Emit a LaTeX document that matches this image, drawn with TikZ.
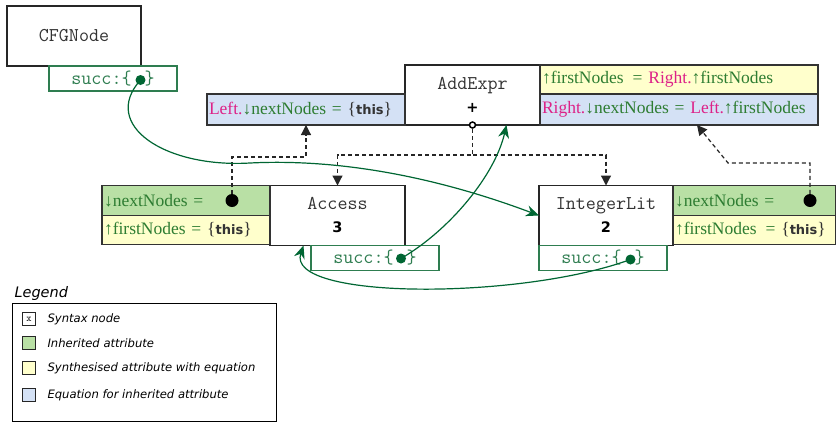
\documentclass[tikz,border=0pt]{standalone}
\usepackage{fontspec}
\setmainfont{Liberation Serif}
\setsansfont{DejaVu Sans}
\usetikzlibrary{positioning,arrows.meta}
\definecolor{attrinh}{HTML}{B9E0A5}
\definecolor{attrsyn}{HTML}{FFFFCC}
\definecolor{attreq}{HTML}{D4E1F5}
\definecolor{attrname}{HTML}{2E7D32}
\definecolor{childref}{HTML}{DD2288}
\definecolor{succline}{HTML}{006633}
\definecolor{succbox}{HTML}{2E7D50}

\newcommand{\nxt}{\textcolor{attrname}{↓nextNodes}}
\newcommand{\fst}{\textcolor{attrname}{↑firstNodes}}
\newcommand{\kid}[1]{\textcolor{childref}{#1.}}
\newcommand{\thisset}{\textcolor{black!80}{\{{\sffamily\bfseries\fontsize{13}{13}\selectfont this}\}}}
\newcommand{\symb}[1]{{\sffamily\bfseries\fontsize{14.5}{14.5}\selectfont #1}}

\tikzset{
  syntaxnode/.style={draw=black!85, line width=1.2pt, fill=white, outer sep=0pt,
    minimum width=135pt, minimum height=60pt, inner sep=0pt, align=center,
    font=\fontsize{19.5}{23}\selectfont},
  attrbox/.style={draw=black!80, line width=1.2pt, outer sep=0pt, inner xsep=2pt,
    minimum height=30pt, align=left, text=attrname,
    font=\fontsize{17.5}{20}\selectfont},
  succnode/.style={draw=succbox, line width=1.2pt, fill=white, outer sep=0pt,
    minimum width=128pt, minimum height=25pt, inner sep=0pt, text=succbox,
    font=\ttfamily\fontsize{19.5}{20}\selectfont},
  succdot/.style={circle, fill=succline, inner sep=0pt, minimum size=10pt},
  srcdot/.style={circle, fill=black, inner sep=0pt, minimum size=13pt},
  depline/.style={draw=black!85, line width=1.2pt, dash pattern=on 4pt off 3pt,
    -{Triangle[width=10pt,length=10pt]}},
  succline/.style={draw=succline, line width=1.2pt, -{Stealth[width=11pt,length=13pt]}},
  keybox/.style={draw=black!85, line width=1pt, minimum size=13pt, inner sep=0pt},
  keytext/.style={font=\sffamily\itshape\fontsize{11.6}{13}\selectfont, anchor=west}
}

\begin{document}
\begin{tikzpicture}[x=1pt, y=-1pt]
  \useasboundingbox (0,0) rectangle (836,421);

  % syntax nodes
  \node[syntaxnode, minimum width=134pt] (cfgnode) at (74,36)
    {\texttt{\textcolor{black!80}{CFGNode}}};
  \node[syntaxnode] (addexpr) at (472.5,95)
    {\texttt{\textcolor{black!80}{AddExpr}}\\\symb{+}};
  \node[syntaxnode] (access) at (337.5,215.5)
    {\texttt{\textcolor{black!80}{Access}}\\\symb{3}};
  \node[syntaxnode, minimum width=134pt] (intlit) at (606,215.5)
    {\texttt{\textcolor{black!80}{IntegerLit}}\\\symb{2}};

  % attribute boxes of AddExpr
  \node[attrbox, fill=attrsyn, anchor=north west, text width=274pt, minimum height=29pt]
    (addfirst) at (addexpr.north east) {\fst\hspace{9pt}= \kid{Right}\fst};
  \node[attrbox, fill=attreq, below=0pt of addfirst, text width=274pt, minimum height=31pt]
    (addnext) {\kid{Right}\nxt{} = \kid{Left}\fst};
  \node[attrbox, fill=attreq, anchor=south east, text width=194pt, minimum height=31pt]
    (leftnext) at (addexpr.south west) {\kid{Left}\nxt{} = \thisset};

  % attribute boxes of Access
  \node[attrbox, fill=attrinh, anchor=north east, text width=164pt, minimum height=30pt]
    (accnext) at (access.north west) {\nxt{} =};
  \node[attrbox, fill=attrsyn, below=0pt of accnext, text width=164pt, minimum height=29pt]
    (accfirst) {\fst{} = \thisset};

  % attribute boxes of IntegerLit
  \node[attrbox, fill=attrinh, anchor=north west, text width=159pt, minimum height=30pt]
    (intnext) at (intlit.north east) {\nxt{} =};
  \node[attrbox, fill=attrsyn, below=0pt of intnext, text width=159pt, minimum height=29pt]
    (intfirst) {\fst\hspace{9pt}= \thisset};

  % succ sets
  \node[succnode, anchor=north west] (cfgsucc) at (49,66) {succ:\{\hspace{13pt}\}};
  \node[succnode, below right=0pt and 41pt of access.south west] (accsucc) {succ:\{\hspace{13pt}\}};
  \node[succnode, anchor=north west] (intsucc) at (intlit.south west) {succ:\{\hspace{13pt}\}};

  \node[succdot] (cfgdot) at ([xshift=27.5pt, yshift=-1.5pt]cfgsucc.center) {};
  \node[succdot] (accdot) at ([xshift=26pt, yshift=-0.5pt]accsucc.center) {};
  \node[succdot] (intdot) at ([xshift=27.5pt, yshift=-1.5pt]intsucc.center) {};

  \node[srcdot] (accsrc) at ([xshift=-38pt]accnext.east) {};
  \node[srcdot] (intsrc) at ([xshift=-26pt]intnext.east) {};
  \node[circle, draw=black, fill=white, line width=1.5pt, inner sep=0pt, minimum size=6pt]
    (addsrc) at (addexpr.south) {};

  % dependencies
  \coordinate (busleft) at (0,157);
  \coordinate (busmid) at (0,155);
  \coordinate (busright) at (0,163);
  \draw[depline] (accsrc) -- (accsrc |- busleft) -| (leftnext.south);
  \draw[depline] (addsrc) -- (addsrc |- busmid) -| (access.north);
  \draw[depline] (addsrc |- busmid) -| (intlit.north);
  \draw[depline] (intsrc) -- (intsrc |- busright) -- (728,163) -- ([xshift=18pt]addnext.south);

  % successor edges
  \draw[succline] (cfgdot.center) .. controls (100,125) and (165,168) .. (250,163)
    .. controls (350,158) and (450,182) .. (intlit.west);
  \draw[succline] (accdot.center) .. controls (450,230) and (495,175) .. ([xshift=34pt]addexpr.south);
  \draw[succline] (intdot.center) .. controls (520,300) and (285,300) .. ([xshift=-34pt]access.south);

  % legend
  \node[font=\sffamily\itshape\fontsize{14.5}{16}\selectfont, anchor=south west] (legendtitle) at (11,304) {Legend};
  \node[draw=black, line width=1pt, anchor=north west, minimum width=264pt, minimum height=118pt,
    inner sep=0pt] (legend) at (12,303) {};
  \node[keybox] (keysyn) at (29,319) {\ttfamily\fontsize{10}{10}\selectfont x};
  \node[keybox, fill=attrinh] (keyinh) at (29,343) {};
  \node[keybox, fill=attrsyn] (keysynth) at (29,368) {};
  \node[keybox, fill=attreq] (keyeq) at (29,395) {};
  \node[keytext, right=8pt of keysyn] {Syntax node};
  \node[keytext, right=8pt of keyinh] {Inherited attribute};
  \node[keytext, right=8pt of keysynth] {Synthesised attribute with equation};
  \node[keytext, right=8pt of keyeq] {Equation for inherited attribute};
\end{tikzpicture}
\end{document}
